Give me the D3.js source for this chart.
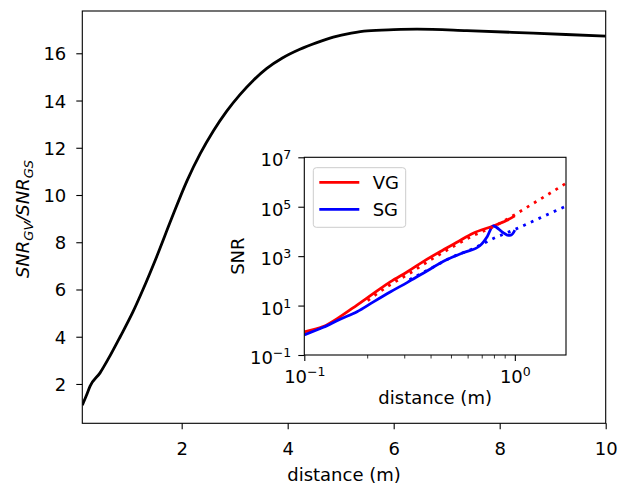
<!DOCTYPE html>
<html>
<head>
<meta charset="utf-8">
<script src="https://cdn.jsdelivr.net/npm/d3@7"></script>
<style>
  body { margin: 0; background: #fff; }
  text { font-family: 'DejaVu Sans', sans-serif; fill: #000; }
</style>
</head>
<body>
<div id="chart"></div>
<script>
// main curve: SNR_GV / SNR_GS against distance
const ratioDistance = [0.125, 0.2, 0.27, 0.46, 0.65, 0.84, 1.08, 1.27, 1.53, 1.8, 2.1, 2.35, 2.6, 2.85, 3.1, 3.35, 3.6, 3.9, 4.23, 4.55, 4.86, 5.2, 5.5, 6.0, 6.44, 7.38, 8.63, 10]
const ratioValue = [1.1, 1.5, 1.9, 2.47, 3.2, 4.0, 5.05, 6.0, 7.4, 8.95, 10.6, 11.75, 12.72, 13.55, 14.25, 14.85, 15.35, 15.8, 16.17, 16.45, 16.68, 16.85, 16.95, 17.0, 17.02, 16.96, 16.85, 16.73]

// inset: measured SNR
const vgDistance = [0.1, 0.123, 0.148, 0.178, 0.214, 0.257, 0.309, 0.367, 0.441, 0.528, 0.634, 0.789, 0.912, 1.0]
const vgSnr = [0.87, 1.41, 3.55, 10.5, 31.6, 93, 234, 603, 1510, 3550, 8510, 16600, 27500, 42700]
const sgDistance = [0.1, 0.123, 0.148, 0.178, 0.214, 0.257, 0.309, 0.367, 0.474, 0.569, 0.682, 0.74, 0.789, 0.881, 0.929, 0.964, 1.0]
const sgSnr = [0.65, 1.32, 2.82, 5.62, 14.5, 36.3, 87, 204, 708, 1380, 2630, 6300, 16600, 8910, 6920, 7240, 11200]

// inset: dotted model curves
const vgFitDistance = [0.2, 0.251, 0.316, 0.398, 0.501, 0.631, 0.794, 1.0, 1.259, 1.585, 1.75]
const vgFitSnr = [15.8, 63, 200, 708, 2240, 6610, 15800, 47900, 158000, 525000, 891000]
const sgFitDistance = [0.316, 0.398, 0.501, 0.631, 0.794, 1.0, 1.259, 1.585, 1.75]
const sgFitSnr = [112, 316, 891, 2000, 5250, 12000, 29500, 72400, 105000]

const seriesNames = ['VG', 'SG']
const seriesColors = ['#ff0000', '#0000ff']

const mainXTicks = [2, 4, 6, 8, 10]
const mainYTicks = [2, 4, 6, 8, 10, 12, 14, 16]
const insetXTicks = [0.1, 1]
const insetXMinor = [0.2, 0.3, 0.4, 0.5, 0.6, 0.7, 0.8, 0.9]
const insetYTicks = [1e-1, 1e1, 1e3, 1e5, 1e7]

const width = 628
const height = 485
const fs = 18

const main = { left: 82.3, right: 605.7, top: 11, bottom: 423.3 }
const ins = { left: 304.3, right: 566, top: 157.3, bottom: 355 }

const svg = d3
  .select('#chart')
  .append('svg')
  .attr('width', width)
  .attr('height', height)

const x = d3.scaleLinear().domain([0.125, 10]).range([main.left, main.right])
const y = d3.scaleLinear().domain([0.335, 17.79]).range([main.bottom, main.top])

const xi = d3.scaleLog().domain([0.1, 1.75]).range([ins.left, ins.right])
const yi = d3.scaleLog().domain([1e-1, 1e7]).range([ins.bottom, ins.top])

svg.append('clipPath').attr('id', 'clip-main')
  .append('rect')
  .attr('x', main.left).attr('y', main.top)
  .attr('width', main.right - main.left).attr('height', main.bottom - main.top)

svg.append('clipPath').attr('id', 'clip-inset')
  .append('rect')
  .attr('x', ins.left).attr('y', ins.top)
  .attr('width', ins.right - ins.left).attr('height', ins.bottom - ins.top)

// ---- main axes ----
const mainLine = d3.line()
  .x(d => x(d[0]))
  .y(d => y(d[1]))
  .curve(d3.curveMonotoneX)

svg.append('path')
  .datum(d3.zip(ratioDistance, ratioValue))
  .attr('clip-path', 'url(#clip-main)')
  .attr('d', mainLine)
  .attr('fill', 'none')
  .attr('stroke', '#000')
  .attr('stroke-width', 2.8)

const xAxis = svg.append('g')
  .attr('transform', `translate(0,${main.bottom})`)
  .call(d3.axisBottom(x).tickValues(mainXTicks).tickSize(6).tickPadding(13).tickSizeOuter(0))
const yAxis = svg.append('g')
  .attr('transform', `translate(${main.left},0)`)
  .call(d3.axisLeft(y).tickValues(mainYTicks).tickSize(6).tickPadding(10).tickSizeOuter(0))

;[xAxis, yAxis].forEach(g => {
  g.select('.domain').remove()
  g.selectAll('line').attr('stroke', '#000').attr('stroke-width', 1.1)
  g.selectAll('text').attr('font-size', fs).attr('font-family', 'DejaVu Sans')
})
yAxis.selectAll('text').attr('dy', '0.36em')

svg.append('rect')
  .attr('x', main.left).attr('y', main.top)
  .attr('width', main.right - main.left).attr('height', main.bottom - main.top)
  .attr('fill', 'none').attr('stroke', '#000').attr('stroke-width', 1.1)

svg.append('text')
  .attr('x', (main.left + main.right) / 2)
  .attr('y', 481)
  .attr('text-anchor', 'middle')
  .attr('font-size', fs)
  .text('distance (m)')

const ylab = svg.append('text')
  .attr('transform', 'translate(29,219) rotate(-90)')
  .attr('text-anchor', 'middle')
  .attr('font-size', fs)
  .attr('font-style', 'italic')
ylab.append('tspan').text('SNR')
ylab.append('tspan').attr('font-size', 13).attr('dy', 3.5).text('GV')
ylab.append('tspan').attr('dy', -3.5).text('/SNR')
ylab.append('tspan').attr('font-size', 13).attr('dy', 3.5).text('GS')

// ---- inset axes ----
svg.append('rect')
  .attr('x', ins.left).attr('y', ins.top)
  .attr('width', ins.right - ins.left).attr('height', ins.bottom - ins.top)
  .attr('fill', '#fff')

const insetLine = d3.line()
  .x(d => xi(d[0]))
  .y(d => yi(d[1]))
  .curve(d3.curveMonotoneX)

const measured = [d3.zip(vgDistance, vgSnr), d3.zip(sgDistance, sgSnr)]
const fitted = [d3.zip(vgFitDistance, vgFitSnr), d3.zip(sgFitDistance, sgFitSnr)]

const plot = svg.append('g').attr('clip-path', 'url(#clip-inset)')

measured.forEach((pts, i) => {
  plot.append('path')
    .datum(pts)
    .attr('d', insetLine)
    .attr('fill', 'none')
    .attr('stroke', seriesColors[i])
    .attr('stroke-width', 2.8)
})
fitted.forEach((pts, i) => {
  plot.append('path')
    .datum(pts)
    .attr('d', insetLine)
    .attr('fill', 'none')
    .attr('stroke', seriesColors[i])
    .attr('stroke-width', 2.8)
    .attr('stroke-dasharray', '2.8,5.6')
})

function supLabel(sel, d) {
  const p = Math.round(Math.log10(d))
  sel.text(null)
  sel.append('tspan').text('10')
  sel.append('tspan')
    .attr('font-size', 12.5)
    .attr('dy', -7)
    .text(p < 0 ? '\u2212' + (-p) : String(p))
}

const xiAxis = svg.append('g')
  .attr('transform', `translate(0,${ins.bottom})`)
  .call(d3.axisBottom(xi).tickValues(insetXTicks).tickSize(6).tickPadding(9.5).tickSizeOuter(0))
const yiAxis = svg.append('g')
  .attr('transform', `translate(${ins.left},0)`)
  .call(d3.axisLeft(yi).tickValues(insetYTicks).tickSize(6).tickPadding(7).tickSizeOuter(0))

;[xiAxis, yiAxis].forEach(g => {
  g.select('.domain').remove()
  g.selectAll('line').attr('stroke', '#000').attr('stroke-width', 1.1)
  g.selectAll('text')
    .attr('font-size', fs)
    .attr('font-family', 'DejaVu Sans')
    .each(function(d) { supLabel(d3.select(this), d) })
})
yiAxis.selectAll('text').attr('dy', 8.5)

svg.append('g')
  .selectAll('line')
  .data(insetXMinor)
  .enter()
  .append('line')
  .attr('x1', d => xi(d)).attr('x2', d => xi(d))
  .attr('y1', ins.bottom).attr('y2', ins.bottom + 3.5)
  .attr('stroke', '#000')
  .attr('stroke-width', 0.8)

svg.append('rect')
  .attr('x', ins.left).attr('y', ins.top)
  .attr('width', ins.right - ins.left).attr('height', ins.bottom - ins.top)
  .attr('fill', 'none').attr('stroke', '#000').attr('stroke-width', 1.1)

svg.append('text')
  .attr('x', (ins.left + ins.right) / 2)
  .attr('y', 404)
  .attr('text-anchor', 'middle')
  .attr('font-size', fs)
  .text('distance (m)')

svg.append('text')
  .attr('transform', `translate(243.5,${(ins.top + ins.bottom) / 2}) rotate(-90)`)
  .attr('text-anchor', 'middle')
  .attr('font-size', fs)
  .text('SNR')

// legend
const legend = svg.append('g')
legend.append('rect')
  .attr('x', 313.3).attr('y', 167.7)
  .attr('width', 92.4).attr('height', 59.6)
  .attr('rx', 3)
  .attr('fill', '#fff').attr('fill-opacity', 0.8)
  .attr('stroke', '#cccccc').attr('stroke-width', 1)

legend.selectAll('g')
  .data(seriesNames)
  .enter()
  .append('g')
  .each(function(d, i) {
    const g = d3.select(this)
    const cy = 182.3 + i * 27
    g.append('line')
      .attr('x1', 319.3).attr('x2', 359.3)
      .attr('y1', cy).attr('y2', cy)
      .attr('stroke', seriesColors[i])
      .attr('stroke-width', 2.8)
    g.append('text')
      .attr('x', 372.7)
      .attr('y', cy + 6.4)
      .attr('font-size', fs)
      .text(d)
  })
</script>
</body>
</html>
